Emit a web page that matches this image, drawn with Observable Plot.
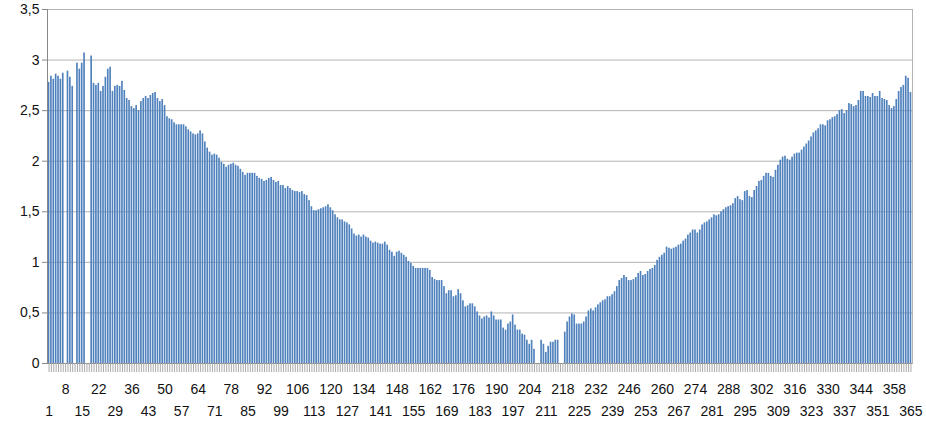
<!DOCTYPE html>
<html><head><meta charset="utf-8">
<script src="https://cdn.jsdelivr.net/npm/d3@7"></script>
<script src="https://cdn.jsdelivr.net/npm/@observablehq/plot@0.6"></script>
<style>body{margin:0;background:#fff}</style>
</head><body><div id="chart"></div>
<script>
// values, by day ranges (null = no bar)
const days001_031 = [2.78,2.84,2.81,2.86,2.84,2.81,2.87,null,2.89,2.83,2.74,null,2.97,2.91,2.97,3.07,null,null,3.04,2.77,2.75,2.77,2.69,2.74,2.83,2.91,2.93,2.69,2.74,2.75,2.74];
const days032_063 = [2.79,2.70,2.62,2.60,2.54,2.52,2.55,2.50,2.59,2.62,2.64,2.62,2.65,2.67,2.68,2.62,2.59,2.61,2.55,2.44,2.42,2.41,2.38,2.36,2.36,2.36,2.36,2.34,2.31,2.29,2.27,2.26];
const days064_097 = [2.27,2.30,2.27,2.19,2.13,2.09,2.06,2.07,2.06,2.03,1.99,1.97,1.94,1.96,1.97,1.98,1.96,1.95,1.92,1.89,1.86,1.88,1.88,1.88,1.88,1.85,1.83,1.82,1.80,1.81,1.83,1.84,1.81,1.79];
const days098_130 = [1.80,1.76,1.76,1.73,1.75,1.73,1.71,1.70,1.70,1.69,1.70,1.67,1.66,1.61,1.55,1.51,1.51,1.52,1.53,1.54,1.55,1.57,1.54,1.51,1.47,1.44,1.42,1.42,1.40,1.39,1.37,1.33,1.28];
const days131_162 = [1.26,1.27,1.25,1.27,1.25,1.24,1.21,1.19,1.20,1.19,1.18,1.18,1.20,1.17,1.12,1.10,1.06,1.10,1.11,1.09,1.07,1.05,1.01,0.99,0.96,0.94,0.94,0.94,0.94,0.94,0.94,0.92];
const days163_195 = [0.85,0.83,0.82,0.82,0.82,0.76,0.69,0.72,0.72,0.66,0.67,0.73,0.69,0.62,0.56,0.57,0.59,0.59,0.56,0.51,0.47,0.44,0.46,0.47,0.45,0.51,0.47,0.43,0.43,0.43,0.35,0.33,0.39];
const days196_228 = [0.41,0.48,0.38,0.33,0.33,0.29,0.28,0.23,0.19,0.23,0.14,null,null,0.23,0.19,0.11,0.17,0.21,0.21,0.23,0.23,null,null,0.31,0.41,0.46,0.49,0.48,0.39,0.39,0.39,0.41,0.46];
const days229_261 = [0.52,0.54,0.52,0.55,0.58,0.60,0.62,0.63,0.66,0.66,0.68,0.71,0.76,0.82,0.84,0.87,0.85,0.82,0.82,0.83,0.85,0.89,0.91,0.87,0.88,0.91,0.93,0.94,0.97,1.02,1.05,1.07,1.09];
const days262_294 = [1.15,1.14,1.13,1.14,1.15,1.17,1.18,1.21,1.23,1.27,1.29,1.32,1.32,1.29,1.32,1.37,1.39,1.40,1.42,1.44,1.47,1.46,1.47,1.50,1.52,1.54,1.55,1.56,1.58,1.63,1.65,1.62,1.61];
const days295_327 = [1.70,1.71,1.65,1.64,1.71,1.75,1.80,1.81,1.85,1.88,1.88,1.85,1.84,1.91,1.96,2.01,2.04,2.05,2.02,2.01,2.04,2.07,2.08,2.08,2.11,2.14,2.17,2.20,2.24,2.28,2.30,2.32,2.36];
const days328_365 = [2.36,2.35,2.40,2.41,2.43,2.44,2.46,2.50,2.51,2.47,2.50,2.57,2.56,2.54,2.55,2.60,2.69,2.69,2.64,2.64,2.63,2.67,2.64,2.64,2.69,2.62,2.61,2.60,2.55,2.52,2.54,2.61,2.69,2.73,2.75,2.84,2.82,2.68];

const labelsTop = [8,22,36,50,64,78,92,106,120,134,148,162,176,190,204,218,232,246,260,274,288,302,316,330,344,358];
const labelsBottom = [1,15,29,43,57,71,85,99,113,127,141,155,169,183,197,211,225,239,253,267,281,295,309,323,337,351,365];
const yTicks = [0,0.5,1,1.5,2,2.5,3,3.5];

const values = [].concat(days001_031,days032_063,days064_097,days098_130,days131_162,days163_195,days196_228,days229_261,days262_294,days295_327,days328_365);
const days = d3.range(1, values.length + 1);
const data = days.map((d, i) => ({day: d, value: values[i]})).filter(d => d.value != null);
const fmt = v => String(v).replace(".", ",");

const chart = Plot.plot({
  width: 926, height: 427,
  marginLeft: 47, marginRight: 14, marginTop: 9, marginBottom: 64,
  style: {fontFamily: "'Liberation Sans', Arial, sans-serif", fontSize: "14px", color: "#111", background: "#fff"},
  x: {type: "band", domain: days, padding: 0.3},
  y: {domain: [0, 3.5]},
  marks: [
    Plot.gridY(yTicks, {stroke: "#b3b3b3", strokeOpacity: 1}),
    Plot.frame({stroke: "#b3b3b3"}),
    Plot.barY(data, {x: "day", y: "value", fill: "#4f81bd"}),
    Plot.frame({anchor: "left", stroke: "#888"}),
    Plot.ruleY([0], {stroke: "#888"}),
    Plot.axisY(yTicks, {tickFormat: fmt, tickSize: 5, tickPadding: 3, stroke: "#888", label: null}),
    Plot.axisX(days, {tickSize: 9, tickFormat: () => "", stroke: "#aaa", label: null}),
    Plot.axisX(labelsTop, {tickSize: 0, tickPadding: 21, label: null}),
    Plot.axisX(labelsBottom, {tickSize: 0, tickPadding: 43, label: null})
  ]
});
document.getElementById("chart").appendChild(chart);
</script>
</body></html>
